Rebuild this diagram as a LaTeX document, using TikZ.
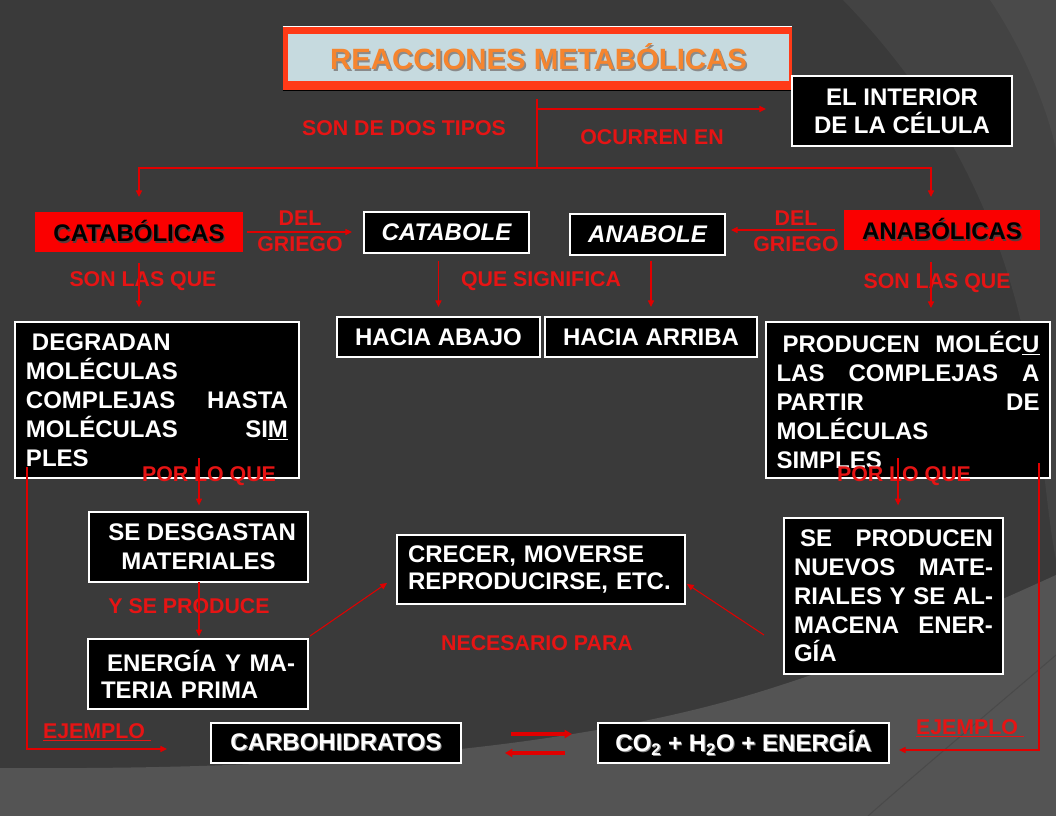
\documentclass[tikz,border=0pt]{standalone}
\usepackage{fontspec}
\setmainfont{Liberation Sans}
\usetikzlibrary{arrows.meta,calc}
\definecolor{bgbase}{HTML}{3A3A3A}
\definecolor{bglow}{HTML}{545454}
\definecolor{bgtr}{HTML}{434343}
\definecolor{bgring}{HTML}{4A4A4A}
\definecolor{labred}{HTML}{E61414}
\definecolor{linred}{HTML}{E00000}
\definecolor{boxred}{HTML}{FA0000}
\definecolor{titred}{HTML}{FF3A17}
\definecolor{titblue}{HTML}{C6DADF}
\definecolor{titorange}{HTML}{F5852F}
\definecolor{shgray}{HTML}{8A8A8A}
\definecolor{shdark}{HTML}{5A3A3A}
\newcommand{\bxfont}{\bfseries\fontsize{18}{21.75}\selectfont}
\newcommand{\lbfont}{\bfseries\fontsize{16}{19.5}\selectfont}
\newcommand{\shtext}[3]{\makebox[0pt][l]{\raisebox{-#3}{\hspace*{#3}\textcolor{#2}{#1}}}#1}
\begin{document}
\begin{tikzpicture}[x=0.75pt,y=-0.75pt,
  box/.style={fill=black, draw=white, line width=0.9pt, text=white, inner sep=0pt, outer sep=0pt, font=\bxfont},
  sz/.style 2 args={minimum width=#1*0.75pt, minimum height=#2*0.75pt},
  tw/.style={text width=#1*0.75pt},
  lab/.style={text=labred, font=\lbfont, inner sep=0pt},
  rl/.style={draw=linred, line width=0.8pt},
  ar/.style={rl, -{Triangle[length=5pt,width=4.6pt]}},
  eqar/.style={draw=linred, line width=2.3pt, -{Triangle[length=5.5pt,width=6pt]}}]
\useasboundingbox (0,0) rectangle (1056,816);
% background
\fill[bgbase] (0,0) rectangle (1056,816);
\fill[bgtr] (843,0) .. controls (960,120) and (1020,260) .. (1038,420) .. controls (1046,490) and (1050,530) .. (1056,560) -- (1056,0) -- cycle;
\fill[bgring] (990,0) .. controls (1030,60) and (1050,120) .. (1056,150) -- (1056,0) -- cycle;
\fill[bglow] (0,768) .. controls (300,770) and (560,752) .. (756,693) .. controls (880,655) and (990,605) .. (1056,575) -- (1056,816) -- (0,816) -- cycle;
\draw[bgring, line width=0.8pt] (1056,655) .. controls (980,720) and (920,770) .. (868,816);

% title
\node[fill=titred, sz={509}{63}, inner sep=0pt] (title) at (537.5,58.5) {};
\draw[white, line width=0.8pt] (title.north west) -- (title.north east);
\draw[black, line width=1pt] (title.south west) -- (title.south east);
\node[fill=titblue, sz={501}{47}, inner sep=0pt, text=titorange, font=\bfseries\fontsize{22}{26}\selectfont] (titin) at (538.5,57.5) {\shtext{REACCIONES METABÓLICAS}{shgray}{1.2pt}};

% boxes
\node[box, sz={220}{70}, align=center, font=\bfseries\fontsize{18}{21}\selectfont] (interior) at (902,111) {EL INTERIOR\\DE LA CÉLULA};
\node[box, draw=none, fill=boxred, sz={208}{40}, text=black] (cata) at (139,232) {\shtext{CATABÓLICAS}{shdark}{1pt}};
\node[box, sz={165}{41}, font=\bxfont\itshape] (catabole) at (446.5,232.5) {CATABOLE};
\node[box, sz={155}{41}, font=\bxfont\itshape] (anabole) at (647.5,234.5) {ANABOLE};
\node[box, draw=none, fill=boxred, sz={196}{40}, text=black] (anab) at (942,230) {\shtext{ANABÓLICAS}{shdark}{1pt}};

\node[box, sz={284}{156}, tw={262}, align=left] (degr) at (157,400)
  {\hspace*{0.25em}DEGRADAN\\MOLÉCULAS\\COMPLEJAS\hfill HASTA\\MOLÉCULAS\hfill SI\underline{M}\\PLES};
\node[box, sz={203}{40}] (abajo) at (438.5,337) {HACIA ABAJO};
\node[box, sz={212}{40}] (arriba) at (651,337) {HACIA ARRIBA};
\node[box, sz={284}{156}, tw={263}, align=left] (prod) at (908,400)
  {\hspace*{0.25em}PRODUCEN\hfill MOLÉC\underline{U}\\LAS\hfill COMPLEJAS\hfill A\\PARTIR\hfill DE\\MOLÉCULAS\\SIMPLES};

\node[box, sz={219}{70}, align=center] (desg) at (198.5,547) {\hspace*{0.3em}SE DESGASTAN\\MATERIALES};
\node[box, sz={220}{70}, tw={194}, align=left, font=\bfseries\fontsize{18}{20.25}\selectfont] (energ) at (198,674)
  {\hspace*{0.25em}ENERGÍA\hfill Y\hfill MA-\\TERIA PRIMA};
\node[box, sz={288}{69}, tw={266}, align=left, font=\bfseries\fontsize{18}{20.25}\selectfont] (crecer) at (541,569.5)
  {CRECER, MOVERSE\\REPRODUCIRSE, ETC.};
\node[box, sz={219}{156}, tw={199}, align=left, font=\bfseries\fontsize{18}{21.6}\selectfont] (sepro) at (893.5,596)
  {\hspace*{0.25em}SE\hfill PRODUCEN\\NUEVOS\hfill MATE-\\RIALES\hfill Y\hfill SE\hfill AL-\\MACENA\hfill ENER-\\GÍA};

\node[box, sz={250}{40}] (carbo) at (336,743) {\shtext{CARBOHIDRATOS}{shgray}{0.8pt}};
\node[box, sz={291}{40}] (co2) at (743.5,743) {\shtext{CO\textsubscript{2} + H\textsubscript{2}O + ENERGÍA}{shgray}{0.8pt}};

% labels
\node[lab] (ldos) at (404,128) {SON DE DOS TIPOS};
\node[lab] (locu) at (652,137) {OCURREN EN};
\node[lab, align=center] (ldel1) at (300,231) {DEL\\GRIEGO};
\node[lab, align=center] (ldel2) at (796,231) {DEL\\GRIEGO};
\node[lab] (lson1) at (143,281) {SON LAS QUE};
\node[lab] (lsig) at (541,281) {QUE SIGNIFICA};
\node[lab] (lson2) at (937,283) {SON LAS QUE};
\node[lab] (lpor1) at (209,476) {POR LO QUE};
\node[lab] (lpor2) at (904,476) {POR LO QUE};
\node[lab] (lyse) at (189,606) {Y SE PRODUCE};
\node[lab] (lnec) at (537,643) {NECESARIO PARA};
\node[lab] (lej1) at (97,732) {\underline{EJEMPLO~}};
\node[lab] (lej2) at (970,728) {\underline{EJEMPLO~}};

% connectors
\coordinate (j0) at (537,99);
\coordinate (j2) at (537,109);
\coordinate (j1) at (537,168);
\draw[rl] (j0) -- (j1);
\draw[ar, shorten >=19.5pt] (j2) -- (j2 -| interior.west);
\draw[ar, shorten >=11.25pt] (j1) -| (cata.north);
\draw[ar, shorten >=9.75pt] (j1) -| ($(anab.north)+(-11,0)$);

\draw[ar, shorten <=3pt, shorten >=9pt] (cata.east) -- (catabole.west |- cata.east);
\draw[ar, shorten <=6.75pt, shorten >=4.5pt] (anab.west) -- (anabole.east |- anab.west);

\draw[ar, shorten <=8.25pt, shorten >=11pt] (cata.south) -- (cata.south |- degr.north);
\draw[ar, shorten <=6pt, shorten >=7.5pt] (abajo.north |- catabole.south) -- (abajo.north);
\draw[ar, shorten <=4.5pt, shorten >=7.5pt] (arriba.north |- anabole.south) -- (arriba.north);
\draw[ar, shorten <=9pt, shorten >=10.5pt] ($(anab.south)+(-11,0)$) -- ($(anab.south |- prod.north)+(-11,0)$);

\draw[ar, shorten >=5pt] ($(desg.north |- degr.south)+(0.5,-20)$) -- ($(desg.north)+(0.5,0)$);
\draw[ar, shorten >=9.5pt] ($(sepro.north |- prod.south)+(4.5,-20)$) -- ($(sepro.north)+(4.5,0)$);
\draw[ar, shorten >=2pt] ($(desg.south)+(0.5,0)$) -- ($(energ.north)+(1,0)$);

\draw[ar] ($(energ.north east)+(2,-3)$) -- ($(crecer.south west)+(-10,-21)$);
\draw[ar] ($(sepro.west)+(-20,39)$) -- ($(crecer.south east)+(2,-20)$);

\draw[ar] ($(degr.south west)+(12,-11)$) |- ($(carbo.west)+(-44,6)$);
\draw[ar] ($(prod.south east)+(-11,-15)$) |- ($(co2.east)+(10,7)$);

\draw[eqar] ($(carbo.east)+(50,-9)$) -- ($(co2.west)+(-26,-9)$);
\draw[eqar] ($(co2.west)+(-33,10)$) -- ($(carbo.east)+(44,10)$);
\end{tikzpicture}
\end{document}
